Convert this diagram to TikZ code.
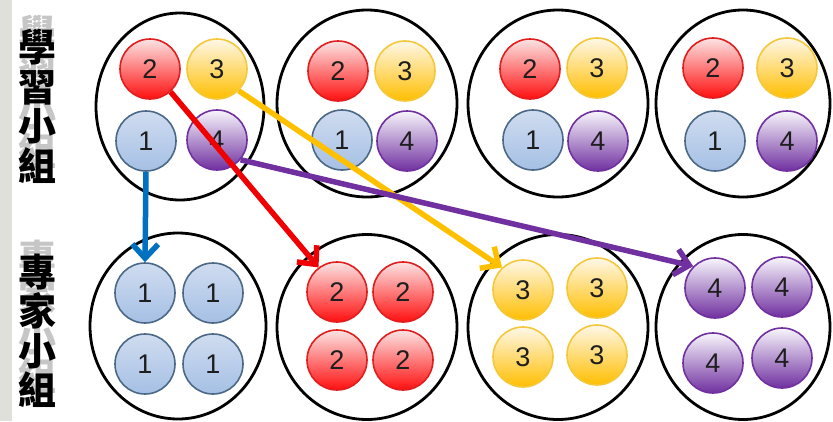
\documentclass[tikz,border=0pt]{standalone}
\usepackage{fontspec}
\setmainfont{Liberation Sans}
\newfontfamily\cjk{Noto Sans CJK TC}
\usetikzlibrary{arrows.meta,shapes.geometric}
\definecolor{stripgray}{RGB}{224,224,218}
\definecolor{textdark}{RGB}{30,30,30}
\definecolor{redline}{RGB}{225,30,30}
\definecolor{redtop}{RGB}{252,228,228}
\definecolor{redbot}{RGB}{255,15,15}
\definecolor{yelline}{RGB}{245,200,60}
\definecolor{yeltop}{RGB}{255,248,232}
\definecolor{yelbot}{RGB}{255,190,0}
\definecolor{bluline}{RGB}{75,105,135}
\definecolor{blutop}{RGB}{208,220,240}
\definecolor{blubot}{RGB}{165,192,228}
\definecolor{purline}{RGB}{112,48,160}
\definecolor{purtop}{RGB}{248,246,252}
\definecolor{purbot}{RGB}{112,48,160}
\definecolor{arrred}{RGB}{240,0,0}
\definecolor{arryel}{RGB}{255,192,0}
\definecolor{arrblu}{RGB}{0,112,192}
\definecolor{arrpur}{RGB}{112,48,160}
\tikzset{
  group/.style={ellipse, draw=black, line width=2.8pt, inner sep=0pt},
  ball/.style={circle, minimum size=60pt, inner sep=0pt, line width=1.6pt,
    font=\fontsize{27}{27}\selectfont, text=textdark},
  rb/.style={ball, draw=redline, top color=redtop, bottom color=redbot},
  yb/.style={ball, draw=yelline, top color=yeltop, bottom color=yelbot},
  bb/.style={ball, draw=bluline, top color=blutop, bottom color=blubot},
  pb/.style={ball, draw=purline, top color=purtop, bottom color=purbot},
  link/.style={line width=5.5pt, -{Straight Barb[length=14pt,width=26pt]}},
  lab/.style={font=\cjk\bfseries\fontsize{38}{39.5}\selectfont, align=center, inner sep=0pt},
  ghost/.style={lab, text=gray, opacity=0.45}
}
\begin{document}
\begin{tikzpicture}[x=1pt,y=-1pt]
\useasboundingbox (0,0) rectangle (833,421);
\fill[stripgray] (0,0) rectangle (12,421);

% side labels
\node[ghost] (g1) at (37.5,92) {學\\習\\小\\組};
\node[lab] (l1) at (37.5,106.5) {學\\習\\小\\組};
\node[ghost] (g2) at (37.5,317) {專\\家\\小\\組};
\node[lab] (l2) at (37.5,331) {專\\家\\小\\組};

% big group circles
\node[group, minimum width=168pt, minimum height=187pt] (T1) at (180,106.5) {};
\node[group, minimum width=180pt, minimum height=187pt] (T2) at (367,103.5) {};
\node[group, minimum width=180pt, minimum height=187pt] (T3) at (558,103.5) {};
\node[group, minimum width=174pt, minimum height=187pt] (T4) at (743,103.5) {};
\node[group, minimum width=176pt, minimum height=186pt] (B1) at (178,326) {};
\node[group, minimum width=180pt, minimum height=185pt] (B2) at (367,327) {};
\node[group, minimum width=180pt, minimum height=185pt] (B3) at (558,327) {};
\node[group, minimum width=174pt, minimum height=185pt] (B4) at (743,327) {};

% learning groups
\node[rb] (t1b) at (150,69) {2};
\node[yb] (t1c) at (217,69) {3};
\node[bb] (t1a) at (146,141) {1};
\node[pb] (t1d) at (217,140) {4};

\node[rb] (t2b) at (338,71) {2};
\node[yb] (t2c) at (405,71) {3};
\node[bb] (t2a) at (342,140) {1};
\node[pb] (t2d) at (407,141) {4};

\node[rb] (t3b) at (530,69) {2};
\node[yb] (t3c) at (597,68) {3};
\node[bb] (t3a) at (533,140) {1};
\node[pb] (t3d) at (598,141) {4};

\node[rb] (t4b) at (713,68) {2};
\node[yb] (t4c) at (787,68) {3};
\node[bb] (t4a) at (715,141) {1};
\node[pb] (t4d) at (787,141) {4};

% expert groups
\node[bb] (b1a) at (145,293) {1};
\node[bb] (b1b) at (213,293) {1};
\node[bb] (b1c) at (145,364) {1};
\node[bb] (b1d) at (213,364) {1};

\node[rb] (b2a) at (337,292) {2};
\node[rb] (b2b) at (403,292) {2};
\node[rb] (b2c) at (337,360) {2};
\node[rb] (b2d) at (403,360) {2};

\node[yb] (b3a) at (523,290) {3};
\node[yb] (b3b) at (597,288) {3};
\node[yb] (b3c) at (523,357) {3};
\node[yb] (b3d) at (597,355) {3};

\node[pb] (b4a) at (715,288) {4};
\node[pb] (b4b) at (782,287) {4};
\node[pb] (b4c) at (713,363) {4};
\node[pb] (b4d) at (782,358) {4};

% arrows
\draw[link, arryel] (t1c.-45) -- (b3a.133);
\draw[link, arrpur] (t1d.-40) -- (b4a.135);
\draw[link, arrred] (t1b.-48) -- (b2a.127);
\draw[link, arrblu] (t1a.south) -- (b1a.north);
\end{tikzpicture}
\end{document}
